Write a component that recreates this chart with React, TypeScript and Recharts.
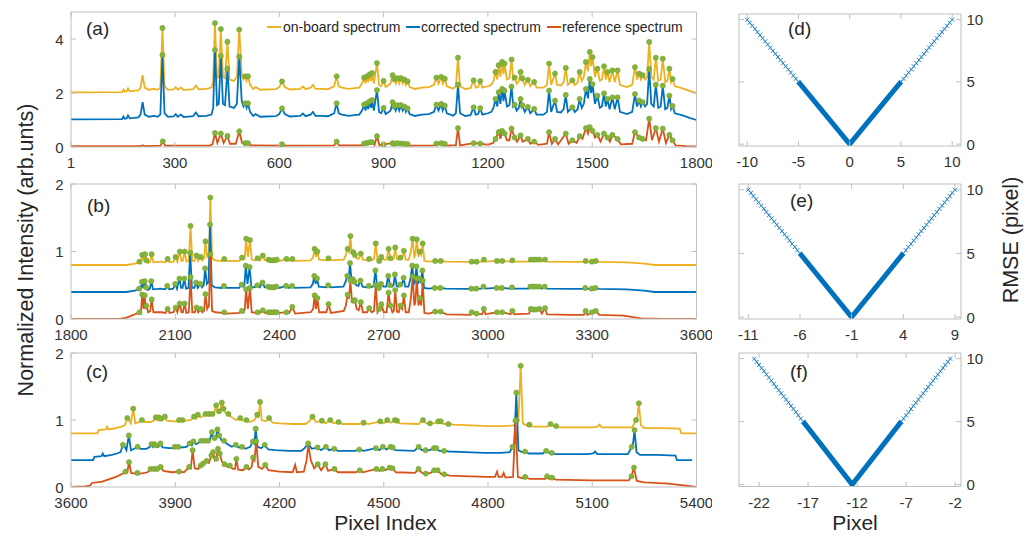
import React from "react";
import { ComposedChart, Line, Scatter, XAxis, YAxis } from "recharts";

type Pt = [number, number, number?];

const ORANGE = "#EDB120";
const BLUE = "#0072BD";
const RED = "#D95319";
const GREEN = "#86B43A";
const AXIS = "#BFBFBF";
const TXT = "#333333";
const FONT = "'Liberation Sans', Arial, Helvetica, sans-serif";

// spectra: [pixel, intensity, 1 = detected peak]
const onboardA: Pt[] = [
  [1, 0.02], [148, 0.03], [152, 0.13], [156, 0.05], [161, 0.06], [165, 0.17], [170, 0.06], [195, 0.1], [201, 0.2],
  [207, 0.66], [213, 0.2], [225, 0.12], [240, 0.15], [250, 0.12], [258, 0.2], [264, 2.41, 1], [270, 0.25], [280, 0.12],
  [296, 0.13], [302, 0.22], [308, 0.12], [317, 0.2], [325, 0.11], [352, 0.14], [360, 0.28], [368, 0.14], [390, 0.15],
  [405, 0.2], [410, 0.45], [415, 2.59, 1], [421, 0.55], [426, 0.6], [432, 2.37, 1], [438, 0.6], [444, 0.55], [451, 1.9, 1],
  [457, 0.5], [470, 0.45], [478, 0.6], [485, 2.35, 1], [492, 0.7], [497, 0.5], [502, 0.62, 1], [506, 0.45], [510, 0.62, 1],
  [516, 0.3], [525, 0.15], [532, 0.22], [545, 0.12], [590, 0.14], [600, 0.22], [608, 0.43, 1], [616, 0.22], [630, 0.13],
  [660, 0.15], [668, 0.24], [676, 0.14], [690, 0.2], [697, 0.3], [704, 0.15], [720, 0.15], [740, 0.14], [750, 0.2],
  [758, 0.25], [765, 0.62, 1], [771, 0.25], [780, 0.2], [800, 0.15], [810, 0.17], [830, 0.2], [838, 0.35], [844, 0.57, 1],
  [848, 0.35], [852, 0.62, 1], [856, 0.4], [860, 0.69, 1], [864, 0.45], [867, 0.74, 1], [872, 0.35], [881, 1.11, 1],
  [887, 0.3], [893, 0.25], [900, 0.45, 1], [906, 0.22], [915, 0.3], [920, 0.35], [926, 0.66, 1], [929, 0.4], [931, 0.52, 1],
  [935, 0.35], [940, 0.55, 1], [945, 0.35], [950, 0.55, 1], [955, 0.35], [960, 0.5, 1], [964, 0.3], [969, 0.43, 1],
  [975, 0.22], [990, 0.15], [1010, 0.2], [1030, 0.22], [1045, 0.3], [1052, 0.57, 1], [1058, 0.35], [1066, 0.6, 1],
  [1070, 0.35], [1076, 0.53, 1], [1082, 0.25], [1100, 0.16], [1108, 0.25], [1114, 1.31, 1], [1120, 0.25], [1135, 0.15],
  [1150, 0.18], [1159, 0.47, 1], [1165, 0.2], [1172, 0.22], [1178, 0.44, 1], [1184, 0.2], [1200, 0.25], [1210, 0.3],
  [1216, 0.45], [1222, 0.78, 1], [1227, 0.5], [1231, 1.03, 1], [1236, 0.6], [1241, 1.15, 1], [1245, 0.7], [1248, 1.09, 1],
  [1255, 0.5], [1262, 0.55], [1268, 1.24, 1], [1273, 0.5], [1277, 0.57, 1], [1283, 0.35], [1289, 0.45], [1294, 0.78, 1],
  [1297, 0.5], [1299, 0.55, 1], [1306, 0.3], [1315, 0.49, 1], [1322, 0.25], [1333, 0.41, 1], [1340, 0.2], [1360, 0.2],
  [1370, 0.3], [1376, 1.09, 1], [1382, 0.3], [1393, 0.72, 1], [1399, 0.3], [1410, 0.28], [1418, 0.4], [1424, 0.93, 1],
  [1430, 0.3], [1443, 0.47, 1], [1450, 0.3], [1458, 0.4], [1464, 0.78, 1], [1470, 0.45], [1476, 0.6], [1482, 1.15, 1],
  [1488, 0.8], [1493, 1.52, 1], [1497, 1.0], [1501, 1.33, 1], [1508, 0.6], [1515, 0.9, 1], [1522, 0.45], [1528, 0.5],
  [1534, 0.99, 1], [1539, 0.5], [1544, 0.78, 1], [1550, 0.4], [1558, 0.84, 1], [1565, 0.4], [1573, 0.84, 1], [1580, 0.3],
  [1600, 0.22], [1615, 0.3], [1623, 0.96, 1], [1629, 0.5], [1635, 0.72, 1], [1640, 0.5], [1645, 0.66, 1], [1652, 0.5],
  [1658, 0.6], [1664, 1.89, 1], [1670, 0.6], [1677, 0.5], [1683, 1.31, 1], [1690, 0.45], [1697, 0.5], [1703, 1.27, 1],
  [1710, 0.4], [1716, 0.45], [1722, 0.9, 1], [1727, 0.4], [1731, 0.52, 1], [1738, 0.25], [1760, 0.17], [1780, 0.08],
  [1800, 0.0],
];

const referenceA: Pt[] = [
  [1, 0.03], [200, 0.03], [207, 0.06], [213, 0.03], [258, 0.05], [265, 0.21, 1], [272, 0.05], [400, 0.05], [408, 0.1],
  [415, 0.52, 1], [422, 0.15], [432, 0.5, 1], [440, 0.15], [451, 0.41, 1], [458, 0.12], [475, 0.12], [485, 0.58, 1],
  [493, 0.15], [502, 0.14, 1], [510, 0.14, 1], [518, 0.06], [600, 0.05], [608, 0.1, 1], [616, 0.05], [758, 0.06],
  [765, 0.2, 1], [772, 0.06], [835, 0.06], [844, 0.13, 1], [852, 0.15, 1], [860, 0.17, 1], [867, 0.18, 1], [874, 0.08],
  [881, 0.4, 1], [888, 0.07], [900, 0.1, 1], [926, 0.14, 1], [931, 0.12, 1], [940, 0.14, 1], [950, 0.13, 1], [960, 0.12, 1],
  [969, 0.11, 1], [976, 0.05], [1045, 0.06], [1052, 0.13, 1], [1066, 0.14, 1], [1076, 0.12, 1], [1083, 0.05], [1108, 0.07],
  [1114, 0.7, 1], [1120, 0.06], [1159, 0.14, 1], [1178, 0.13, 1], [1200, 0.08], [1215, 0.15], [1222, 0.3, 1],
  [1231, 0.55, 1], [1236, 0.3], [1241, 0.6, 1], [1248, 0.5, 1], [1255, 0.25], [1262, 0.25], [1268, 0.68, 1],
  [1277, 0.35, 1], [1284, 0.2], [1294, 0.43, 1], [1300, 0.2], [1315, 0.3, 1], [1322, 0.12], [1333, 0.2, 1], [1345, 0.08],
  [1370, 0.12], [1376, 0.55, 1], [1384, 0.12], [1393, 0.3, 1], [1402, 0.1], [1424, 0.5, 1], [1432, 0.12], [1443, 0.25, 1],
  [1455, 0.15], [1464, 0.4, 1], [1472, 0.3], [1482, 0.7, 1], [1488, 0.5], [1493, 0.74, 1], [1501, 0.6, 1], [1508, 0.35],
  [1515, 0.45, 1], [1524, 0.2], [1534, 0.5, 1], [1544, 0.35, 1], [1551, 0.2], [1558, 0.45, 1], [1573, 0.3, 1], [1582, 0.1],
  [1615, 0.12], [1623, 0.55, 1], [1635, 0.35, 1], [1645, 0.3, 1], [1655, 0.25], [1664, 1.05, 1], [1672, 0.25],
  [1683, 0.7, 1], [1692, 0.2], [1703, 0.68, 1], [1712, 0.15], [1722, 0.45, 1], [1731, 0.25, 1], [1740, 0.06],
  [1770, 0.03], [1800, 0.02],
];

const onboardB: Pt[] = [
  [1800, 0.0], [1960, 0.0], [1985, 0.02], [1997, 0.05, 1], [2001, 0.03], [2005, 0.15, 1], [2009, 0.06], [2013, 0.16, 1],
  [2017, 0.07, 1], [2022, 0.03], [2028, 0.05], [2032, 0.16, 1], [2037, 0.04], [2060, 0.05], [2072, 0.04], [2078, 0.09, 1],
  [2084, 0.04], [2095, 0.05], [2101, 0.12, 1], [2106, 0.05], [2113, 0.2, 1], [2118, 0.06], [2122, 0.06], [2127, 0.2, 1],
  [2132, 0.05], [2139, 0.06], [2144, 0.58, 1], [2149, 0.06], [2156, 0.06], [2161, 0.14, 1], [2166, 0.06], [2173, 0.12, 1],
  [2178, 0.07], [2183, 0.1], [2187, 0.35, 1], [2192, 0.12], [2197, 0.15], [2201, 1.0, 1], [2206, 0.1], [2215, 0.07],
  [2235, 0.06], [2241, 0.09, 1], [2247, 0.06], [2285, 0.06], [2292, 0.11, 1], [2297, 0.08], [2300, 0.1], [2304, 0.39, 1],
  [2309, 0.12], [2315, 0.37, 1], [2320, 0.08], [2330, 0.07], [2337, 0.1, 1], [2344, 0.07], [2352, 0.14, 1], [2358, 0.07],
  [2368, 0.08, 1], [2374, 0.07, 1], [2380, 0.07, 1], [2386, 0.07, 1], [2392, 0.08, 1], [2400, 0.06], [2420, 0.09, 1],
  [2428, 0.06], [2437, 0.09, 1], [2445, 0.06], [2490, 0.07], [2497, 0.12], [2501, 0.24, 1], [2505, 0.12], [2509, 0.2, 1],
  [2514, 0.08], [2535, 0.07], [2541, 0.1, 1], [2548, 0.07], [2585, 0.08], [2591, 0.15], [2596, 0.24, 1], [2600, 0.2],
  [2604, 0.43, 1], [2608, 0.18], [2612, 0.19, 1], [2617, 0.15, 1], [2622, 0.1], [2628, 0.09], [2634, 0.17, 1], [2640, 0.08],
  [2652, 0.07], [2658, 0.09, 1], [2665, 0.07], [2672, 0.09], [2677, 0.32, 1], [2682, 0.08], [2687, 0.06, 1], [2693, 0.12, 1],
  [2700, 0.08], [2708, 0.08], [2714, 0.24, 1], [2719, 0.1, 1], [2725, 0.08], [2729, 0.1], [2733, 0.26, 1], [2738, 0.09],
  [2743, 0.08], [2748, 0.11, 1], [2753, 0.1], [2758, 0.21, 1], [2763, 0.08], [2772, 0.08], [2778, 0.2], [2783, 0.39, 1],
  [2788, 0.12], [2791, 0.15], [2795, 0.38, 1], [2800, 0.12], [2804, 0.2, 1], [2808, 0.15], [2812, 0.32, 1], [2817, 0.06],
  [2830, 0.05], [2848, 0.06, 1], [2864, 0.06, 1], [2880, 0.05], [2950, 0.045], [2953, 0.05, 1], [2967, 0.05, 1],
  [2983, 0.05], [2988, 0.08, 1], [2993, 0.05], [3026, 0.06, 1], [3041, 0.06, 1], [3065, 0.05], [3070, 0.07, 1],
  [3075, 0.05], [3118, 0.05], [3123, 0.08, 1], [3131, 0.08, 1], [3138, 0.08, 1], [3148, 0.08, 1], [3155, 0.05],
  [3164, 0.08, 1], [3170, 0.05], [3240, 0.045], [3276, 0.045], [3281, 0.06, 1], [3286, 0.045], [3299, 0.05, 1],
  [3310, 0.06, 1], [3320, 0.045], [3400, 0.04], [3450, 0.02], [3480, 0.0], [3600, 0.0],
];

const referenceB: Pt[] = [
  [1800, 0.0], [1940, 0.0], [1960, 0.02], [1980, 0.06], [1997, 0.1, 1], [2001, 0.08], [2005, 0.36, 1], [2009, 0.15],
  [2012, 0.35, 1], [2015, 0.15], [2017, 0.2, 1], [2022, 0.1], [2028, 0.12], [2032, 0.29, 1], [2037, 0.1], [2060, 0.1],
  [2072, 0.09], [2078, 0.15, 1], [2084, 0.09], [2095, 0.1], [2101, 0.17, 1], [2106, 0.1], [2113, 0.23, 1], [2118, 0.1],
  [2122, 0.1], [2127, 0.23, 1], [2132, 0.09], [2139, 0.1], [2144, 0.62, 1], [2149, 0.1], [2156, 0.1], [2161, 0.17, 1],
  [2166, 0.1], [2173, 0.15, 1], [2178, 0.1], [2183, 0.12], [2187, 0.37, 1], [2192, 0.15], [2197, 0.2], [2201, 0.96, 1],
  [2206, 0.12], [2215, 0.1], [2235, 0.09], [2241, 0.1, 1], [2247, 0.08], [2285, 0.09], [2292, 0.12, 1], [2297, 0.1],
  [2300, 0.14], [2304, 0.44, 1], [2309, 0.15], [2315, 0.46, 1], [2320, 0.1], [2330, 0.09], [2337, 0.1, 1], [2344, 0.09],
  [2352, 0.13, 1], [2358, 0.09], [2368, 0.1, 1], [2374, 0.1, 1], [2380, 0.1, 1], [2386, 0.1, 1], [2392, 0.1, 1],
  [2400, 0.09], [2420, 0.1, 1], [2428, 0.09], [2437, 0.18, 1], [2445, 0.08], [2490, 0.1], [2497, 0.15], [2501, 0.35, 1],
  [2505, 0.15], [2509, 0.31, 1], [2514, 0.1], [2535, 0.1], [2541, 0.22, 1], [2548, 0.09], [2585, 0.12], [2591, 0.2],
  [2596, 0.36, 1], [2600, 0.3], [2604, 0.57, 1], [2608, 0.3], [2612, 0.27, 1], [2617, 0.28, 1], [2622, 0.15], [2628, 0.13],
  [2634, 0.25, 1], [2640, 0.1], [2652, 0.1], [2658, 0.16, 1], [2665, 0.1], [2672, 0.12], [2677, 0.5, 1], [2682, 0.1],
  [2687, 0.15, 1], [2693, 0.22, 1], [2700, 0.1], [2708, 0.1], [2714, 0.39, 1], [2719, 0.2, 1], [2725, 0.1], [2729, 0.12],
  [2733, 0.43, 1], [2738, 0.11], [2743, 0.1], [2748, 0.2, 1], [2753, 0.15], [2758, 0.35, 1], [2763, 0.1], [2772, 0.1],
  [2778, 0.3], [2783, 0.63, 1], [2788, 0.2], [2791, 0.25], [2795, 0.6, 1], [2800, 0.2], [2804, 0.31, 1], [2808, 0.2],
  [2812, 0.57, 1], [2817, 0.09], [2830, 0.08], [2848, 0.11, 1], [2864, 0.11, 1], [2880, 0.07], [2950, 0.06],
  [2953, 0.1, 1], [2967, 0.08, 1], [2983, 0.07], [2988, 0.15, 1], [2993, 0.07], [3026, 0.1, 1], [3041, 0.1, 1],
  [3065, 0.07], [3070, 0.12, 1], [3075, 0.07], [3118, 0.08], [3123, 0.15, 1], [3131, 0.14, 1], [3138, 0.14, 1],
  [3148, 0.15, 1], [3155, 0.08], [3164, 0.16, 1], [3170, 0.07], [3240, 0.06], [3276, 0.06], [3281, 0.12, 1], [3286, 0.06],
  [3299, 0.1, 1], [3310, 0.12, 1], [3320, 0.06], [3390, 0.05], [3440, 0.01], [3500, 0.0], [3600, 0.0],
];

const onboardC: Pt[] = [
  [3600, 0.0], [3676, 0.0], [3680, 0.05], [3700, 0.06], [3704, 0.1], [3708, 0.06], [3730, 0.08], [3745, 0.1], [3755, 0.12],
  [3762, 0.23, 1], [3767, 0.2], [3772, 0.15], [3779, 0.37, 1], [3785, 0.15], [3795, 0.17], [3804, 0.2, 1], [3812, 0.17],
  [3830, 0.17], [3840, 0.2], [3844, 0.24, 1], [3848, 0.2], [3852, 0.24, 1], [3858, 0.22, 1], [3864, 0.2], [3870, 0.25, 1],
  [3876, 0.19], [3895, 0.18], [3905, 0.18], [3911, 0.2, 1], [3921, 0.2, 1], [3930, 0.19], [3945, 0.2], [3954, 0.25, 1],
  [3960, 0.22], [3965, 0.28, 1], [3972, 0.24], [3980, 0.26], [3987, 0.29, 1], [3997, 0.29, 1], [4007, 0.29, 1], [4012, 0.3],
  [4018, 0.42, 1], [4022, 0.32], [4026, 0.33, 1], [4030, 0.36], [4034, 0.46, 1], [4039, 0.37, 1], [4045, 0.3],
  [4053, 0.29, 1], [4060, 0.25], [4075, 0.2], [4087, 0.23, 1], [4095, 0.19], [4105, 0.2, 1], [4115, 0.17], [4128, 0.2],
  [4136, 0.28, 1], [4140, 0.25], [4144, 0.47, 1], [4149, 0.2], [4160, 0.18], [4170, 0.23, 1], [4180, 0.16], [4200, 0.15],
  [4240, 0.14], [4275, 0.14], [4285, 0.18], [4295, 0.25, 1], [4305, 0.17], [4322, 0.19, 1], [4332, 0.15], [4346, 0.2, 1],
  [4355, 0.15], [4370, 0.17, 1], [4380, 0.14], [4430, 0.14], [4442, 0.16, 1], [4455, 0.14], [4490, 0.18, 1], [4500, 0.15],
  [4510, 0.2, 1], [4520, 0.16], [4532, 0.2, 1], [4538, 0.19, 1], [4545, 0.15], [4600, 0.14], [4613, 0.2, 1], [4622, 0.15],
  [4633, 0.15, 1], [4645, 0.15], [4657, 0.18, 1], [4664, 0.18, 1], [4672, 0.14], [4686, 0.14, 1], [4700, 0.13],
  [4750, 0.12], [4800, 0.11], [4850, 0.11], [4875, 0.12], [4883, 0.2, 1], [4888, 0.25], [4894, 1.01, 1], [4900, 0.15],
  [4910, 0.12], [4919, 0.13, 1], [4930, 0.1], [4970, 0.1], [4980, 0.14, 1], [4988, 0.11], [4996, 0.11, 1], [5005, 0.09],
  [5100, 0.09], [5115, 0.1], [5121, 0.13], [5127, 0.09], [5215, 0.09], [5226, 0.2, 1], [5230, 0.25], [5234, 0.45, 1],
  [5240, 0.12], [5250, 0.08], [5300, 0.08], [5352, 0.07], [5356, 0.0], [5400, 0.0],
];

const referenceC: Pt[] = [
  [3600, 0.0], [3640, 0.01], [3655, 0.02], [3660, 0.06], [3690, 0.08], [3729, 0.15], [3753, 0.21], [3757, 0.23, 1],
  [3762, 0.22], [3767, 0.37, 1], [3773, 0.21], [3785, 0.2], [3791, 0.21, 1], [3800, 0.2], [3820, 0.22], [3829, 0.27, 1],
  [3839, 0.27, 1], [3848, 0.27, 1], [3858, 0.3, 1], [3866, 0.24], [3890, 0.22], [3911, 0.23, 1], [3925, 0.22],
  [3940, 0.3, 1], [3945, 0.28], [3950, 0.55, 1], [3956, 0.28], [3966, 0.27], [3973, 0.32, 1], [3980, 0.35, 1],
  [3990, 0.39, 1], [3997, 0.36], [4004, 0.47, 1], [4009, 0.52, 1], [4014, 0.4], [4018, 0.42, 1], [4023, 0.57, 1],
  [4028, 0.5, 1], [4034, 0.38], [4042, 0.34, 1], [4050, 0.3], [4057, 0.32, 1], [4065, 0.27], [4072, 0.27], [4076, 0.42, 1],
  [4081, 0.26], [4095, 0.25], [4105, 0.3, 1], [4112, 0.26], [4120, 0.3], [4124, 0.44, 1], [4128, 0.4], [4133, 0.68, 1],
  [4139, 0.3], [4150, 0.27], [4159, 0.33, 1], [4168, 0.25], [4200, 0.23], [4238, 0.22], [4245, 0.33], [4250, 0.22],
  [4270, 0.23], [4278, 0.4], [4283, 0.63], [4290, 0.4], [4300, 0.28], [4310, 0.34, 1], [4320, 0.25], [4332, 0.34, 1],
  [4340, 0.24], [4358, 0.27, 1], [4368, 0.22], [4420, 0.22], [4431, 0.25, 1], [4440, 0.22], [4479, 0.27, 1], [4488, 0.24],
  [4496, 0.27, 1], [4505, 0.25], [4517, 0.29, 1], [4525, 0.28, 1], [4535, 0.22], [4590, 0.21], [4600, 0.27, 1],
  [4610, 0.21], [4621, 0.2, 1], [4635, 0.21], [4645, 0.25, 1], [4655, 0.25, 1], [4664, 0.2], [4674, 0.19, 1], [4690, 0.17],
  [4750, 0.16], [4800, 0.15], [4820, 0.15], [4826, 0.23], [4830, 0.15], [4840, 0.15], [4845, 0.21], [4850, 0.14],
  [4872, 0.15], [4879, 0.99, 1], [4886, 0.15], [4900, 0.13], [4907, 0.15, 1], [4920, 0.12], [4965, 0.12], [4970, 0.16, 1],
  [4976, 0.12], [4984, 0.14, 1], [4995, 0.11], [5100, 0.1], [5205, 0.1], [5213, 0.16, 1], [5220, 0.29, 1], [5228, 0.09],
  [5250, 0.07], [5320, 0.05], [5400, 0.0],
];

// vertical stacking of on-board / corrected / reference, and pixel shift found in (d)-(f)
const stackA = [2, 1, 0];
const stackBC = [0.8, 0.4, 0];
const shiftA = 0;
const shiftB = -1;
const shiftC = -12.5;

const xTicksA = [1, 300, 600, 900, 1200, 1500, 1800];
const xTicksB = [1800, 2100, 2400, 2700, 3000, 3300, 3600];
const xTicksC = [3600, 3900, 4200, 4500, 4800, 5100, 5400];
const yTicksA = [0, 2, 4];
const yTicksBC = [0, 1, 2];

// RMSE vs. pixel shift
const rmseOuter = [10, 9.75, 9.5, 9.25, 9, 8.75, 8.5, 8.25, 8, 7.75, 7.5, 7.25, 7, 6.75, 6.5, 6.25, 6, 5.75, 5.5, 5.25, 5];
const pixLeftD = [-10, -9.75, -9.5, -9.25, -9, -8.75, -8.5, -8.25, -8, -7.75, -7.5, -7.25, -7, -6.75, -6.5, -6.25, -6, -5.75, -5.5, -5.25, -5];
const pixRightD = [10, 9.75, 9.5, 9.25, 9, 8.75, 8.5, 8.25, 8, 7.75, 7.5, 7.25, 7, 6.75, 6.5, 6.25, 6, 5.75, 5.5, 5.25, 5];
const pixLeftE = [-11, -10.75, -10.5, -10.25, -10, -9.75, -9.5, -9.25, -9, -8.75, -8.5, -8.25, -8, -7.75, -7.5, -7.25, -7, -6.75, -6.5, -6.25, -6];
const pixRightE = [9, 8.75, 8.5, 8.25, 8, 7.75, 7.5, 7.25, 7, 6.75, 6.5, 6.25, 6, 5.75, 5.5, 5.25, 5, 4.75, 4.5, 4.25, 4];
const pixLeftF = [-22.5, -22.25, -22, -21.75, -21.5, -21.25, -21, -20.75, -20.5, -20.25, -20, -19.75, -19.5, -19.25, -19, -18.75, -18.5, -18.25, -18, -17.75, -17.5];
const pixRightF = [-2.5, -2.75, -3, -3.25, -3.5, -3.75, -4, -4.25, -4.5, -4.75, -5, -5.25, -5.5, -5.75, -6, -6.25, -6.5, -6.75, -7, -7.25, -7.5];
const innerD: Pt[] = [[-5, 5], [0, 0], [5, 5]];
const innerE: Pt[] = [[-6, 5], [-1, 0], [4, 5]];
const innerF: Pt[] = [[-17.5, 5], [-12.5, 0], [-7.5, 5]];
const rmseTicks = [0, 5, 10];
const pixTicksD = [-10, -5, 0, 5, 10];
const pixTicksE = [-11, -6, -1, 4, 9];
const pixTicksF = [-22, -17, -12, -7, -2];

const toRows = (pts: Pt[], dx: number, dy: number) =>
  pts.map((p) => ({ x: p[0] + dx, y: p[1] + dy, pk: p[2] === 1 }));

const bottomTick = (p: any) => (
  <g>
    <line x1={p.x} x2={p.x} y1={p.y} y2={p.y - 5} stroke={AXIS} />
    <text x={p.x} y={p.y + 21} textAnchor="middle" fontSize={15} fill={TXT} fontFamily={FONT}>
      {p.payload.value}
    </text>
  </g>
);
const topTick = (p: any) => <line x1={p.x} x2={p.x} y1={p.y} y2={p.y + 5} stroke={AXIS} />;
const leftTick = (p: any) => (
  <g>
    <line x1={p.x} x2={p.x + 5} y1={p.y} y2={p.y} stroke={AXIS} />
    <text x={p.x - 7.5} y={p.y} textAnchor="end" dominantBaseline="central" fontSize={15} fill={TXT} fontFamily={FONT}>
      {p.payload.value}
    </text>
  </g>
);
const leftTickPlain = (p: any) => <line x1={p.x} x2={p.x + 5} y1={p.y} y2={p.y} stroke={AXIS} />;
const rightTick = (p: any) => (
  <g>
    <line x1={p.x} x2={p.x - 5} y1={p.y} y2={p.y} stroke={AXIS} />
    <text x={p.x + 5.5} y={p.y} textAnchor="start" dominantBaseline="central" fontSize={15} fill={TXT} fontFamily={FONT}>
      {p.payload.value}
    </text>
  </g>
);
const rightTickPlain = (p: any) => <line x1={p.x} x2={p.x - 5} y1={p.y} y2={p.y} stroke={AXIS} />;

const peakDot = (p: any) => <circle cx={p.cx} cy={p.cy} r={2.6} fill={GREEN} stroke="#6F9E2C" strokeWidth={0.5} />;
const xMark = (p: any) => (
  <path
    d={`M${p.cx - 2},${p.cy - 2}L${p.cx + 2},${p.cy + 2}M${p.cx - 2},${p.cy + 2}L${p.cx + 2},${p.cy - 2}`}
    stroke={BLUE}
    strokeWidth={0.9}
    fill="none"
  />
);

const axisCommon = {
  type: "number" as const,
  allowDataOverflow: true,
  interval: 0 as const,
  tickSize: 0,
  tickMargin: 0,
  tickLine: false,
  axisLine: { stroke: AXIS },
};

function SpecPanel(props: any) {
  const { top, h, xDomain, xTicks, yMax, yTicks, onboard, reference, stack, shift } = props;
  const W = 712;
  const plotL = 71;
  const plotR = 696.5;
  const orange = toRows(onboard, 0, stack[0]);
  const blue = toRows(onboard, shift, stack[1]);
  const red = toRows(reference, 0, stack[2]);
  const peaks = [...orange, ...blue, ...red].filter((r) => r.pk);
  return (
    <div style={{ position: "absolute", left: 0, top: top - 10 }}>
      <ComposedChart width={W} height={h + 40} margin={{ top: 9, left: plotL - 40, right: W - plotR - 1, bottom: 0 }}>
        <XAxis xAxisId="b" dataKey="x" domain={xDomain} ticks={xTicks} height={30} tick={bottomTick} {...axisCommon} />
        <XAxis xAxisId="t" orientation="top" dataKey="x" domain={xDomain} ticks={xTicks} height={1} tick={topTick} {...axisCommon} />
        <YAxis yAxisId="l" dataKey="y" domain={[0, yMax]} ticks={yTicks} width={40} tick={leftTick} {...axisCommon} />
        <YAxis yAxisId="r" orientation="right" domain={[0, yMax]} ticks={yTicks} width={1} tick={rightTickPlain} {...axisCommon} />
        <Line xAxisId="b" yAxisId="l" data={orange} dataKey="y" type="linear" stroke={ORANGE} strokeWidth={1.8} dot={false} activeDot={false} isAnimationActive={false} />
        <Line xAxisId="b" yAxisId="l" data={blue} dataKey="y" type="linear" stroke={BLUE} strokeWidth={1.8} dot={false} activeDot={false} isAnimationActive={false} />
        <Line xAxisId="b" yAxisId="l" data={red} dataKey="y" type="linear" stroke={RED} strokeWidth={1.8} dot={false} activeDot={false} isAnimationActive={false} />
        <Scatter xAxisId="b" yAxisId="l" data={peaks} dataKey="y" shape={peakDot} isAnimationActive={false} />
      </ComposedChart>
    </div>
  );
}

function RmsePanel(props: any) {
  const { top, h, xDomain, xTicks, left, right, inner } = props;
  const X0 = 700;
  const W = 333;
  const plotL = 739;
  const plotR = 961;
  const markers = [
    ...left.map((x: number, i: number) => ({ x, y: rmseOuter[i] })),
    ...right.map((x: number, i: number) => ({ x, y: rmseOuter[i] })),
  ];
  const thick = inner.map((p: Pt) => ({ x: p[0], y: p[1] }));
  const yDom = [-0.15, 10.45];
  return (
    <div style={{ position: "absolute", left: X0, top: top - 10 }}>
      <ComposedChart width={W} height={h + 40} margin={{ top: 9, left: plotL - X0 - 1, right: W - (plotR - X0) - 40, bottom: 0 }}>
        <XAxis xAxisId="b" dataKey="x" domain={xDomain} ticks={xTicks} height={30} tick={bottomTick} {...axisCommon} />
        <XAxis xAxisId="t" orientation="top" dataKey="x" domain={xDomain} ticks={xTicks} height={1} tick={topTick} {...axisCommon} />
        <YAxis yAxisId="l" dataKey="y" domain={yDom} ticks={rmseTicks} width={1} tick={leftTickPlain} {...axisCommon} />
        <YAxis yAxisId="r" orientation="right" domain={yDom} ticks={rmseTicks} width={40} tick={rightTick} {...axisCommon} />
        <Line xAxisId="b" yAxisId="l" data={thick} dataKey="y" type="linear" stroke={BLUE} strokeWidth={5} strokeLinejoin="miter" dot={false} activeDot={false} isAnimationActive={false} />
        <Scatter xAxisId="b" yAxisId="l" data={markers} dataKey="y" shape={xMark} isAnimationActive={false} />
      </ComposedChart>
    </div>
  );
}

const txt = { fontFamily: FONT, fill: "#262626" };

export default function App() {
  return (
    <div style={{ position: "absolute", left: 0, top: 0, width: 1033, height: 536, background: "#fff", overflow: "hidden" }}>
      <SpecPanel top={12} h={135} xDomain={[1, 1800]} xTicks={xTicksA} yMax={5} yTicks={yTicksA}
        onboard={onboardA} reference={referenceA} stack={stackA} shift={shiftA} />
      <SpecPanel top={183.5} h={135} xDomain={[1800, 3600]} xTicks={xTicksB} yMax={2} yTicks={yTicksBC}
        onboard={onboardB} reference={referenceB} stack={stackBC} shift={shiftB} />
      <SpecPanel top={352.5} h={134} xDomain={[3600, 5400]} xTicks={xTicksC} yMax={2} yTicks={yTicksBC}
        onboard={onboardC} reference={referenceC} stack={stackBC} shift={shiftC} />
      <RmsePanel top={14} h={132} xDomain={[-10.8, 10.86]} xTicks={pixTicksD} left={pixLeftD} right={pixRightD} inner={innerD} />
      <RmsePanel top={184} h={135} xDomain={[-11.9, 9.59]} xTicks={pixTicksE} left={pixLeftE} right={pixRightE} inner={innerE} />
      <RmsePanel top={353} h={133.5} xDomain={[-24.05, -1.4]} xTicks={pixTicksF} left={pixLeftF} right={pixRightF} inner={innerF} />
      <svg width={1033} height={536} style={{ position: "absolute", left: 0, top: 0, pointerEvents: "none" }}>
        <g fontSize={19} {...txt}>
          <text x={86} y={35}>(a)</text>
          <text x={87} y={211.5}>(b)</text>
          <text x={86} y={378}>(c)</text>
          <text x={788} y={35}>(d)</text>
          <text x={790} y={206.5}>(e)</text>
          <text x={790} y={378}>(f)</text>
        </g>
        <g fontSize={14} {...txt}>
          <line x1={267} x2={281} y1={27} y2={27} stroke={ORANGE} strokeWidth={2} />
          <text x={283} y={32}>on-board spectrum</text>
          <line x1={406} x2={420} y1={27} y2={27} stroke={BLUE} strokeWidth={2} />
          <text x={421} y={32}>corrected spectrum</text>
          <line x1={547} x2={561} y1={27} y2={27} stroke={RED} strokeWidth={2} />
          <text x={562} y={32}>reference spectrum</text>
        </g>
        <g fontSize={21} {...txt}>
          <text x={33} y={250} fontSize={21.5} textAnchor="middle" transform="rotate(-90 33 250)">Normalized Intensity (arb.unts)</text>
          <text x={385.5} y={530} textAnchor="middle">Pixel Index</text>
          <text x={855} y={530} textAnchor="middle">Pixel</text>
          <text x={1018} y={240} fontSize={21.5} textAnchor="middle" transform="rotate(-90 1018 240)">RMSE (pixel)</text>
        </g>
      </svg>
    </div>
  );
}
